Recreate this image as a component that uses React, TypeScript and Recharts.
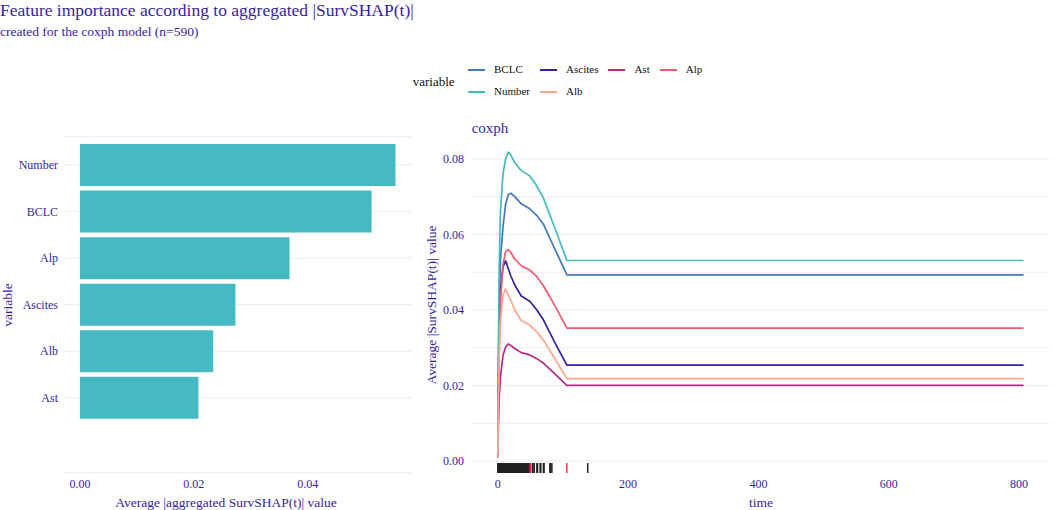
import React from "react";
import {
  Bar,
  BarChart,
  CartesianGrid,
  ComposedChart,
  Line,
  ReferenceLine,
  XAxis,
  YAxis,
} from "recharts";

const ink = "#371ea3";
const gridColor = "#ebebef";
const serif = "'Liberation Serif', 'Times New Roman', serif";

// left panel: aggregated importance
const features = ["Number", "BCLC", "Alp", "Ascites", "Alb", "Ast"];
const importance = [0.0554, 0.0512, 0.0368, 0.0273, 0.0234, 0.0208];
const importanceTicks = [0, 0.02, 0.04];

// right panel: SurvSHAP(t) over time
const times = [0, 1, 2, 4, 8, 12, 16, 20, 26, 36, 49, 60, 70, 88, 106, 807];
const bclc = [0.001, 0.025, 0.04, 0.053, 0.062, 0.068, 0.0705, 0.0709, 0.07, 0.0681, 0.0668, 0.065, 0.0627, 0.056, 0.0493, 0.0493];
const ascites = [0.001, 0.02, 0.033, 0.045, 0.0515, 0.053, 0.051, 0.049, 0.0466, 0.0437, 0.0423, 0.04, 0.0374, 0.0312, 0.0254, 0.0254];
const ast = [0.001, 0.01, 0.016, 0.022, 0.028, 0.0302, 0.031, 0.0306, 0.0298, 0.0287, 0.0281, 0.0271, 0.0259, 0.023, 0.02, 0.02];
const alp = [0.001, 0.018, 0.029, 0.042, 0.052, 0.0555, 0.056, 0.0552, 0.0535, 0.0517, 0.0506, 0.0488, 0.0464, 0.041, 0.0352, 0.0352];
const number = [0.001, 0.03, 0.05, 0.066, 0.076, 0.08, 0.0818, 0.081, 0.079, 0.0769, 0.0755, 0.0728, 0.0696, 0.0615, 0.0531, 0.0531];
const alb = [0.001, 0.016, 0.027, 0.037, 0.044, 0.0455, 0.044, 0.0425, 0.04, 0.0372, 0.036, 0.0342, 0.032, 0.027, 0.0218, 0.0218];

const seriesNames = ["BCLC", "Ascites", "Ast", "Alp", "Number", "Alb"];
const seriesValues = [bclc, ascites, ast, alp, number, alb];
const seriesColors = ["#4378bf", "#371ea3", "#ae2c87", "#f05a71", "#46bac2", "#ffa58c"];

const timeTicks = [0, 200, 400, 600, 800];
const shapTicks = [0, 0.02, 0.04, 0.06, 0.08];
const shapMinor = [0.01, 0.03, 0.05, 0.07];

// rug of observed times
const rugCensored = [
  0, 1, 2, 3, 4, 5, 6, 7, 8, 9, 10, 11, 12, 13, 14, 15, 16, 17, 18, 19, 20, 21, 22, 23, 24,
  25, 26, 27, 28, 29, 30, 31, 32, 33, 34, 35, 36, 37, 38, 39, 40, 41, 42, 43, 44, 45, 46, 47, 48,
  53, 54, 56, 60, 61, 65, 66, 70, 71, 80, 81, 83, 138,
];
const rugEvents = [50, 106];

const barRows = features.map((f, i) => ({ variable: f, value: importance[i] }));
const lineRows = times.map((t, i) => {
  const row: Record<string, number> = { time: t };
  seriesNames.forEach((name, s) => {
    row[name] = seriesValues[s][i];
  });
  return row;
});

const yMin = -0.00318;
const rugTop = -0.00053;

const tickStyle = { fill: ink, fontSize: 12, fontFamily: serif };
const titleStyle = { fill: ink, fontSize: 13.5, fontFamily: serif };

const ImportanceChart = () => (
  <BarChart
    layout="vertical"
    width={412}
    height={510}
    data={barRows}
    margin={{ top: 137, right: 0, bottom: 0, left: 0 }}
    barCategoryGap="5%"
  >
    <CartesianGrid horizontal vertical={false} stroke={gridColor} strokeWidth={1} />
    <XAxis
      type="number"
      domain={[-0.0028, 0.0583]}
      allowDataOverflow
      ticks={importanceTicks}
      tickFormatter={(v: number) => v.toFixed(2)}
      axisLine={false}
      tickLine={false}
      tickSize={0}
      tickMargin={6}
      height={37}
      tick={tickStyle}
      label={{
        value: "Average |aggregated SurvSHAP(t)| value",
        position: "insideBottom",
        offset: 3,
        dx: -12,
        style: titleStyle,
      }}
    />
    <YAxis
      type="category"
      dataKey="variable"
      width={64}
      axisLine={false}
      tickLine={false}
      tickSize={0}
      tickMargin={6}
      padding={{ top: 4.7, bottom: 52 }}
      tick={tickStyle}
      label={{
        value: "variable",
        angle: -90,
        position: "insideLeft",
        offset: 7,
        style: { ...titleStyle, textAnchor: "middle" },
      }}
    />
    <Bar dataKey="value" fill="#46bac2" isAnimationActive={false} />
  </BarChart>
);

const SurvShapChart = () => (
  <ComposedChart
    width={640}
    height={510}
    data={lineRows}
    margin={{ top: 137, right: 2, bottom: 0, left: 0 }}
  >
    {[...shapTicks, ...shapMinor].map((v) => (
      <ReferenceLine key={"g" + v} y={v} stroke={gridColor} strokeWidth={1} />
    ))}
    <XAxis
      type="number"
      dataKey="time"
      domain={[-39.6, 847.6]}
      allowDataOverflow
      ticks={timeTicks}
      axisLine={false}
      tickLine={false}
      tickSize={0}
      tickMargin={6}
      height={37}
      tick={tickStyle}
      label={{ value: "time", position: "insideBottom", offset: 3, style: titleStyle }}
    />
    <YAxis
      type="number"
      domain={[yMin, 0.0858]}
      allowDataOverflow
      ticks={shapTicks}
      tickFormatter={(v: number) => v.toFixed(2)}
      width={60}
      axisLine={false}
      tickLine={false}
      tickSize={0}
      tickMargin={8}
      tick={tickStyle}
      label={{
        value: "Average |SurvSHAP(t)| value",
        angle: -90,
        position: "insideLeft",
        offset: 19,
        style: { ...titleStyle, textAnchor: "middle" },
      }}
    />
    {seriesNames.map((name, s) => (
      <Line
        key={name}
        type="linear"
        dataKey={name}
        stroke={seriesColors[s]}
        strokeWidth={1.7}
        strokeLinejoin="round"
        dot={false}
        activeDot={false}
        isAnimationActive={false}
      />
    ))}
    {rugCensored.map((t) => (
      <ReferenceLine
        key={"c" + t}
        segment={[
          { x: t, y: yMin },
          { x: t, y: rugTop },
        ]}
        stroke="#222222"
        strokeWidth={1.5}
      />
    ))}
    {rugEvents.map((t) => (
      <ReferenceLine
        key={"e" + t}
        segment={[
          { x: t, y: yMin },
          { x: t, y: rugTop },
        ]}
        stroke="#e8202a"
        strokeWidth={1.3}
      />
    ))}
  </ComposedChart>
);

const Legend = () => (
  <div style={{ position: "absolute", left: 412.7, top: 59 }}>
    <div
      style={{
        position: "absolute",
        left: 0,
        top: 16,
        fontSize: 13,
        lineHeight: 1,
        color: "#111",
        whiteSpace: "nowrap",
      }}
    >
      variable
    </div>
    <div
      style={{
        position: "absolute",
        left: 55.3,
        top: 0,
        display: "grid",
        gridTemplateColumns: "repeat(4, auto)",
        whiteSpace: "nowrap",
      }}
    >
      {seriesNames.map((name, s) => (
        <div
          key={name}
          style={{ display: "flex", alignItems: "center", height: 21.7, paddingRight: 10 }}
        >
          <span
            style={{
              width: 17,
              height: 2,
              background: seriesColors[s],
              marginRight: 9,
              display: "inline-block",
            }}
          />
          <span style={{ fontSize: 11, lineHeight: 1, color: "#111" }}>{name}</span>
        </div>
      ))}
    </div>
  </div>
);

export default function App() {
  return (
    <div
      style={{
        position: "relative",
        width: 1052,
        height: 510,
        background: "#ffffff",
        fontFamily: serif,
        overflow: "hidden",
      }}
    >
      <style>{`
        body { margin: 0; }
        .recharts-wrapper text, .recharts-wrapper tspan { font-family: 'Liberation Serif', 'Times New Roman', serif !important; }
      `}</style>
      <div
        style={{
          position: "absolute",
          left: 0,
          top: 2,
          fontSize: 17.5,
          lineHeight: 1,
          color: ink,
          whiteSpace: "nowrap",
        }}
      >
        Feature importance according to aggregated |SurvSHAP(t)|
      </div>
      <div
        style={{
          position: "absolute",
          left: 0,
          top: 25,
          fontSize: 13.5,
          lineHeight: 1,
          color: ink,
          whiteSpace: "nowrap",
        }}
      >
        created for the coxph model (n=590)
      </div>
      <Legend />
      <div
        style={{
          position: "absolute",
          left: 471.7,
          top: 121,
          fontSize: 15,
          lineHeight: 1,
          color: ink,
        }}
      >
        coxph
      </div>
      <div style={{ position: "absolute", left: 0, top: 0 }}>
        <ImportanceChart />
      </div>
      <div style={{ position: "absolute", left: 412, top: 0 }}>
        <SurvShapChart />
      </div>
    </div>
  );
}
